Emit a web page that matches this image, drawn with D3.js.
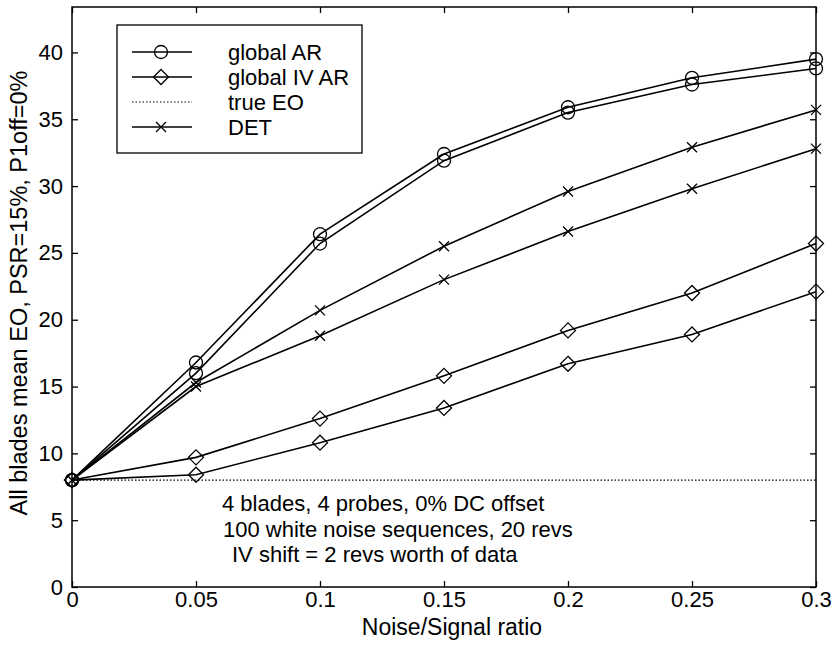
<!DOCTYPE html>
<html>
<head>
<meta charset="utf-8">
<script src="https://cdn.jsdelivr.net/npm/d3@7"></script>
<style>
  body { margin: 0; background: #fff; }
  svg { font-family: "Liberation Sans", Arial, sans-serif; }
  .tick text { font-size: 22px; fill: #000; }
</style>
</head>
<body>
<svg id="chart" width="834" height="650"></svg>
<script>
const ratios = [0, 0.05, 0.1, 0.15, 0.2, 0.25, 0.3]

const arUpper = [8, 16.8, 26.4, 32.4, 35.9, 38.1, 39.5]
const arLower = [8, 16.0, 25.7, 31.9, 35.5, 37.6, 38.8]
const ivUpper = [8, 9.7, 12.6, 15.8, 19.2, 22.0, 25.7]
const ivLower = [8, 8.4, 10.8, 13.4, 16.7, 18.9, 22.1]
const detUpper = [8, 15.3, 20.7, 25.5, 29.6, 32.9, 35.7]
const detLower = [8, 15.0, 18.8, 23.0, 26.6, 29.8, 32.8]
const trueEO = [8, 8, 8, 8, 8, 8, 8]

const xTicks = [0, 0.05, 0.1, 0.15, 0.2, 0.25, 0.3]
const yTicks = [0, 5, 10, 15, 20, 25, 30, 35, 40]

const legendLabels = ['global AR', 'global IV AR', 'true EO', 'DET']
const notes = ['4 blades, 4 probes, 0% DC offset', '100 white noise sequences, 20 revs', 'IV shift = 2 revs worth of data']

const svg = d3.select('#chart')
const margin = {top: 7, right: 18, bottom: 63, left: 72}
const width = 834 - margin.left - margin.right
const height = 650 - margin.top - margin.bottom

const x = d3.scaleLinear().domain([0, 0.3]).range([0, width])
const y = d3.scaleLinear().domain([0, 43.4]).range([height, 0])

const g = svg.append('g').attr('transform', `translate(${margin.left},${margin.top})`)

// axes, ticks pointing inward like matlab
const fmt = d => String(d)
g.append('g').attr('transform', `translate(0,${height})`)
  .call(d3.axisBottom(x).tickValues(xTicks).tickFormat(fmt).tickSizeInner(-6).tickSizeOuter(0).tickPadding(4))
g.append('g')
  .call(d3.axisLeft(y).tickValues(yTicks).tickFormat(fmt).tickSizeInner(-6).tickSizeOuter(0).tickPadding(9))
g.append('g')
  .call(d3.axisTop(x).tickValues(xTicks).tickFormat('').tickSizeInner(-6).tickSizeOuter(0))
g.append('g').attr('transform', `translate(${width},0)`)
  .call(d3.axisRight(y).tickValues(yTicks).tickFormat('').tickSizeInner(-6).tickSizeOuter(0))
g.selectAll('.domain').remove()
g.selectAll('.tick line').attr('stroke', '#000').attr('stroke-width', 1.3)

g.append('rect')
  .attr('width', width).attr('height', height)
  .attr('fill', 'none').attr('stroke', '#000').attr('stroke-width', 1.5)

const line = d3.line().x((d, i) => x(ratios[i])).y(d => y(d))

const series = [
  {vals: trueEO, marker: null, dash: '1.5,2'},
  {vals: arUpper, marker: 'circle'},
  {vals: arLower, marker: 'circle'},
  {vals: ivUpper, marker: 'diamond'},
  {vals: ivLower, marker: 'diamond'},
  {vals: detUpper, marker: 'x'},
  {vals: detLower, marker: 'x'}
]

function drawMarker(sel, type, cx, cy) {
  if (type === 'circle') {
    sel.append('circle').attr('cx', cx).attr('cy', cy).attr('r', 6.5)
      .attr('fill', 'none').attr('stroke', '#000').attr('stroke-width', 1.3)
  } else if (type === 'diamond') {
    const s = 7.5
    sel.append('path').attr('d', `M${cx},${cy - s}L${cx + s},${cy}L${cx},${cy + s}L${cx - s},${cy}Z`)
      .attr('fill', 'none').attr('stroke', '#000').attr('stroke-width', 1.3)
  } else if (type === 'x') {
    const s = 5
    sel.append('path').attr('d', `M${cx - s},${cy - s}L${cx + s},${cy + s}M${cx - s},${cy + s}L${cx + s},${cy - s}`)
      .attr('fill', 'none').attr('stroke', '#000').attr('stroke-width', 1.3)
  }
}

series.forEach(s => {
  g.append('path')
    .datum(s.vals)
    .attr('d', line)
    .attr('fill', 'none')
    .attr('stroke', '#000')
    .attr('stroke-width', s.dash ? 1.2 : 1.6)
    .attr('stroke-dasharray', s.dash || null)
  if (s.marker) {
    s.vals.forEach((v, i) => drawMarker(g, s.marker, x(ratios[i]), y(v)))
  }
})

// annotation
const notesX = [150, 151, 160]
notes.forEach((t, i) => {
  g.append('text')
    .attr('x', notesX[i])
    .attr('y', y(8) + 31 + i * 25.5)
    .attr('font-size', 22)
    .text(t)
})

// legend
const leg = svg.append('g').attr('transform', 'translate(117,25)')
leg.append('rect').attr('width', 245).attr('height', 128)
  .attr('fill', '#fff').attr('stroke', '#000').attr('stroke-width', 1.3)
const legMarkers = ['circle', 'diamond', null, 'x']
legendLabels.forEach((lab, i) => {
  const ly = 27 + i * 25
  leg.append('line').attr('x1', 15).attr('x2', 75).attr('y1', ly).attr('y2', ly)
    .attr('stroke', '#000').attr('stroke-width', legMarkers[i] ? 1.5 : 1.2)
    .attr('stroke-dasharray', legMarkers[i] ? null : '1.5,2')
  if (legMarkers[i]) drawMarker(leg, legMarkers[i], 44, ly)
  leg.append('text').attr('x', 111).attr('y', ly + 8).attr('font-size', 22).text(lab)
})

// axis titles
svg.append('text')
  .attr('x', 452).attr('y', 635)
  .attr('text-anchor', 'middle').attr('font-size', 23)
  .text('Noise/Signal ratio')
svg.append('text')
  .attr('transform', `translate(27,${margin.top + height / 2 - 4}) rotate(-90)`)
  .attr('text-anchor', 'middle').attr('font-size', 23.5)
  .text('All blades mean EO, PSR=15%, P1off=0%')
</script>
</body>
</html>
